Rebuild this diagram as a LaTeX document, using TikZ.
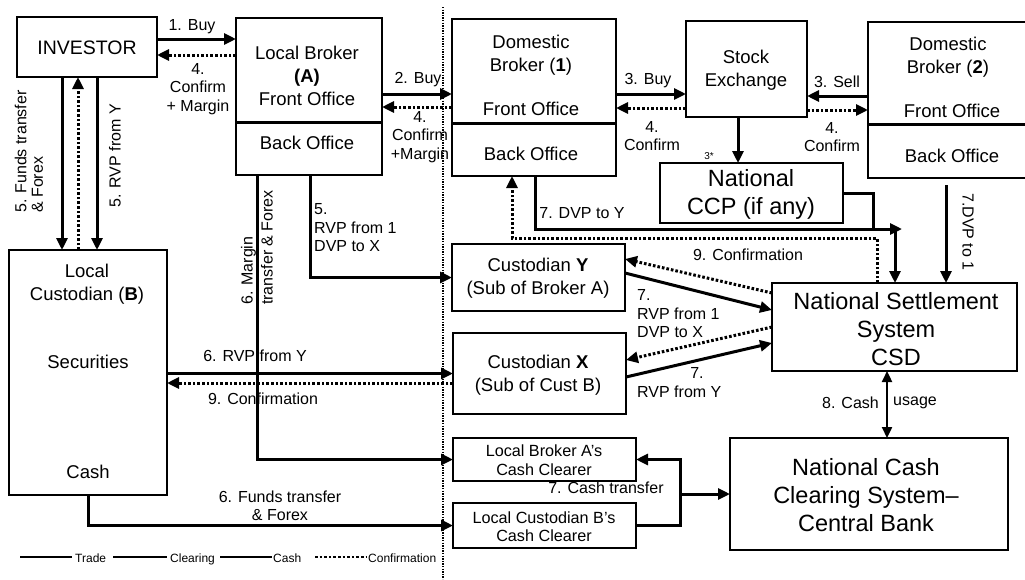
\documentclass[tikz,border=0pt]{standalone}
\usepackage{fontspec}
\setmainfont{Liberation Sans}
\usetikzlibrary{arrows.meta}
\begin{document}
\begin{tikzpicture}[x=1pt,y=-1pt,
  box/.style={draw, line width=1.5pt, inner sep=0pt, outer sep=0pt},
  divider/.style={line width=3pt},
  flow/.style={line width=3pt, -{Triangle[length=12pt,width=11pt]}},
  plainline/.style={line width=3pt},
  conf/.style={line width=3pt, dash pattern=on 2.6pt off 2pt, -{Triangle[length=12pt,width=11pt]}},
  confline/.style={line width=3pt, dash pattern=on 2.6pt off 2pt},
  both/.style={line width=2.3pt, {Triangle[length=11pt,width=10pt]}-{Triangle[length=11pt,width=10pt]}},
  sepline/.style={line width=1.8pt, dash pattern=on 1.4pt off 1.2pt},
  btext/.style={font=\fontsize{18.5}{23}\selectfont, align=center, inner sep=0pt},
  bigtext/.style={font=\fontsize{23.5}{28}\selectfont, align=center, inner sep=0pt},
  clrtext/.style={font=\fontsize{16.2}{18.5}\selectfont, align=center, inner sep=0pt},
  lbl/.style={font=\fontsize{16}{18.5}\selectfont, align=center, inner sep=1pt},
  lgd/.style={font=\fontsize{12}{13}\selectfont, inner sep=0pt, anchor=base west}
]
\useasboundingbox (0,0) rectangle (1025,579);

% separator
\coordinate (septop) at (443,7);
\coordinate (sepbot) at (443,579);
\draw[sepline] (septop) -- (sepbot);

% boxes
\node[box,minimum width=140pt,minimum height=60pt] (inv) at (87,47) {};
\node[box,minimum width=146pt,minimum height=104pt] (lbf) at (309,70) {};
\node[box,minimum width=146pt,minimum height=53pt] (lbb) at (309,148.5) {};
\node[box,minimum width=158pt,minimum height=245pt] (lcust) at (88,372.5) {};
\node[box,minimum width=164pt,minimum height=104pt] (dbaf) at (534,71) {};
\node[box,minimum width=164pt,minimum height=53pt] (dbab) at (534,149.5) {};
\node[box,minimum width=121pt,minimum height=96pt] (se) at (746.5,69) {};
\node[box,minimum width=183pt,minimum height=60pt] (ccp) at (751.5,193) {};
\node[box,minimum width=172pt,minimum height=102pt] (dbbf) at (954,73) {};
\node[box,minimum width=172pt,minimum height=54pt] (dbbb) at (954,151) {};
\node[box,minimum width=173pt,minimum height=67pt] (custy) at (538.5,277.5) {};
\node[box,minimum width=173pt,minimum height=81pt] (custx) at (539.5,373.5) {};
\node[box,minimum width=183pt,minimum height=43pt] (lbacc) at (544.5,459.5) {};
\node[box,minimum width=183pt,minimum height=45pt] (lcbcc) at (544.5,525.5) {};
\node[box,minimum width=245pt,minimum height=88pt] (nss) at (894.5,327) {};
\node[box,minimum width=278pt,minimum height=112pt] (nccs) at (869,494) {};

\draw[divider] (lbb.north west) -- (lbb.north east);
\draw[divider] (dbab.north west) -- (dbab.north east);
\draw[divider] (dbbb.north west) -- (dbbb.north east);

% box texts
\node[btext, font=\fontsize{19.5}{22}\selectfont] (tinv) at (87,48) {INVESTOR};
\node[btext] (tlbf) at (307,76) {Local Broker\\\textbf{(A)}\\Front Office};
\node[btext] (tlbb) at (307,143) {Back Office};
\node[btext] (tlc1) at (87,284) {Local\\Custodian (\textbf{B})};
\node[btext] (tlc2) at (88,362) {Securities};
\node[btext] (tlc3) at (88,472) {Cash};
\node[btext] (tdba1) at (531,55) {Domestic\\Broker (\textbf{1})};
\node[btext] (tdba2) at (531,109) {Front Office};
\node[btext] (tdba3) at (531,154) {Back Office};
\node[btext] (tse) at (746,70) {Stock\\Exchange};
\node[bigtext] (tccp) at (751,194) {National\\CCP (if any)};
\node[btext] (tdbb1) at (948,57) {Domestic\\Broker (\textbf{2})};
\node[btext] (tdbb2) at (952,111) {Front Office};
\node[btext] (tdbb3) at (952,156) {Back Office};
\node[btext] (tcy) at (538,278.5) {Custodian \textbf{Y}\\(Sub of Broker A)};
\node[btext] (tcx) at (538,375.5) {Custodian \textbf{X}\\(Sub of Cust B)};
\node[clrtext] (tlbacc) at (544,460) {Local Broker A's\\Cash Clearer};
\node[clrtext] (tlcbcc) at (544,526.5) {Local Custodian B's\\Cash Clearer};
\node[bigtext] (tnss) at (896,329) {National Settlement\\System\\CSD};
\node[bigtext] (tnccs) at (866,495) {National Cash\\Clearing System–\\Central Bank};

% trade flows top
\draw[flow] (inv.east |- 0,39) -- (lbf.west |- 0,39);
\node[lbl] (l1) at (192,27) {1. Buy};
\draw[conf] (lbf.west |- 0,55) -- (inv.east |- 0,55);
\node[lbl] (l4a) at (198,89) {4.\\Confirm\\+ Margin};
\draw[flow] (lbf.east |- 0,94) -- (dbaf.west |- 0,94);
\node[lbl] (l2) at (418,80) {2. Buy};
\draw[conf] (dbaf.west |- 0,107) -- (lbf.east |- 0,107);
\node[lbl] (l4b) at (420,137) {4.\\Confirm\\+Margin};
\draw[flow] (dbaf.east |- 0,94) -- (se.west |- 0,94);
\node[lbl] (l3a) at (648,81) {3. Buy};
\draw[conf] (se.west |- 0,108) -- (dbaf.east |- 0,108);
\node[lbl] (l4c) at (652,136) {4.\\Confirm};
\draw[flow] (dbbf.west |- 0,96) -- (se.east |- 0,96);
\node[lbl] (l3b) at (837,82) {3. Sell};
\draw[conf] (se.east |- 0,110) -- (dbbf.west |- 0,110);
\node[lbl] (l4d) at (832,137) {4.\\Confirm};
\draw[flow] (se.south -| 738,0) -- (ccp.north -| 738,0);
\node[lbl, font=\fontsize{10}{12}\selectfont] (l3s) at (709,156) {3*};

% investor <-> local custodian
\draw[flow] (inv.south -| 62,0) -- (lcust.north -| 62,0);
\draw[conf] (lcust.north -| 78,0) -- (inv.south -| 78,0);
\draw[flow] (inv.south -| 97,0) -- (lcust.north -| 97,0);
\node[lbl, rotate=90, anchor=west, align=left, font=\fontsize{16}{16.5}\selectfont] (l5a) at (29,214) {5. Funds transfer\\\& Forex};
\node[lbl, rotate=90] (l5b) at (115,156) {5. RVP from Y};

% local broker back office flows
\draw[flow] (lbb.south -| 257,0) |- (lbacc.west);
\node[lbl, rotate=90, anchor=west, align=left, font=\fontsize{16}{20}\selectfont] (l6m) at (257,306) {6. Margin\\transfer \& Forex};
\draw[flow] (lbb.south -| 310,0) |- (custy.west);
\node[lbl, anchor=west, align=left] (l5c) at (313,228) {5.\\RVP from 1\\DVP to X};

% local custodian flows
\draw[flow] (lcust.east |- custx.west) -- (custx.west);
\node[lbl] (l6r) at (255,356) {6. RVP from Y};
\draw[conf] (custx.west |- 0,383) -- (lcust.east |- 0,383);
\node[lbl] (l9a) at (263,399) {9. Confirmation};
\draw[flow] (lcust.south -| 88,0) |- (lcbcc.west);
\node[lbl] (l6f) at (280,506) {6. Funds transfer\\\& Forex};

% domestic side settlement
\coordinate (dvpend) at (902,229);
\coordinate (ccpj) at (873,229);
\coordinate (nssj) at (895,229);
\draw[flow] (dbab.south -| 535,0) |- (dvpend);
\node[lbl] (l7d) at (582,213) {7. DVP to Y};
\draw[plainline] (ccp.east) -| (ccpj);
\draw[flow] (nssj) -- (nss.north -| 895,0);
\draw[conf] (nss.north -| 877,0) -- (877,238) -- (512,238) -- (dbab.south -| 512,0);
\node[lbl] (l9b) at (748,255) {9. Confirmation};
\coordinate (d2s) at (946,185);
\draw[flow] (d2s) -- (nss.north -| 946,0);
\node[lbl, rotate=-90] (l7e) at (968,232) {7.DVP to 1};

% custodians <-> NSS
\draw[flow] (custy.east |- 0,273) -- (nss.west |- 0,310);
\draw[conf] (nss.west |- 0,293) -- (custy.east |- 0,259);
\draw[flow] (custx.east |- 0,377) -- (nss.west |- 0,343);
\draw[conf] (nss.west |- 0,327) -- (custx.east |- 0,360);
\node[lbl, anchor=west, align=left] (l7a) at (636,314) {7.\\RVP from 1\\DVP to X};
\node[lbl] (l7b) at (697,373) {7.};
\node[lbl, anchor=west] (l7c) at (636,392) {RVP from Y};

% cash
\draw[both] (nss.south -| 887,0) -- (nccs.north -| 887,0);
\node[lbl, anchor=east] (l8a) at (880,403) {8. Cash};
\node[lbl, anchor=west] (l8b) at (892,403) {usage};
\draw[flow] (lcbcc.east) -- ++(44,0) |- (lbacc.east);
\coordinate (ctj) at (680,494);
\draw[flow] (ctj) -- (nccs.west);
\node[lbl] (l7t) at (606,488) {7. Cash transfer};

% legend
\coordinate (g1a) at (20,557); \coordinate (g1b) at (72,557);
\coordinate (g2a) at (113,557); \coordinate (g2b) at (167,557);
\coordinate (g3a) at (220,557); \coordinate (g3b) at (272,557);
\coordinate (g4a) at (315,557); \coordinate (g4b) at (367,557);
\draw[plainline, line width=2.6pt] (g1a) -- (g1b);
\draw[plainline, line width=2.6pt] (g2a) -- (g2b);
\draw[plainline, line width=2.6pt] (g3a) -- (g3b);
\draw[confline, line width=2.6pt] (g4a) -- (g4b);
\node[lgd] (lg1) at (75,562) {Trade};
\node[lgd] (lg2) at (170,562) {Clearing};
\node[lgd] (lg3) at (273,562) {Cash};
\node[lgd] (lg4) at (368,562) {Confirmation};
\end{tikzpicture}
\end{document}
